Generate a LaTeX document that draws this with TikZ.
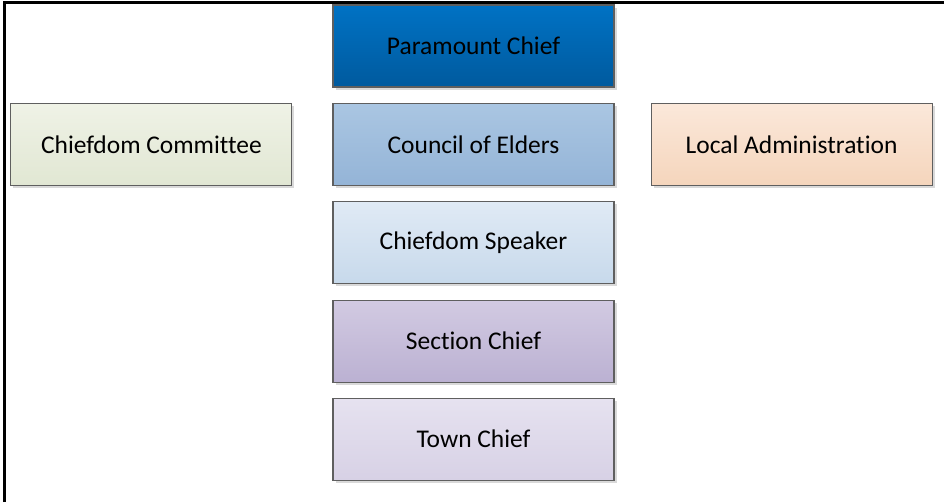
\documentclass[tikz,border=0pt]{standalone}
\usepackage{fontspec}
\setmainfont[Ligatures={NoCommon}]{Carlito}
\usepackage{tikz}
\usetikzlibrary{positioning,shadows}
\definecolor{edgegrey}{RGB}{95,95,95}
\definecolor{pcTop}{RGB}{0,114,196}
\definecolor{pcBot}{RGB}{0,90,158}
\definecolor{ceTop}{RGB}{170,198,226}
\definecolor{ceBot}{RGB}{148,180,215}
\definecolor{csTop}{RGB}{224,234,245}
\definecolor{csBot}{RGB}{199,217,235}
\definecolor{scTop}{RGB}{210,202,226}
\definecolor{scBot}{RGB}{187,177,210}
\definecolor{tcTop}{RGB}{230,226,240}
\definecolor{tcBot}{RGB}{215,209,229}
\definecolor{ccTop}{RGB}{239,242,230}
\definecolor{ccBot}{RGB}{225,231,211}
\definecolor{laTop}{RGB}{251,232,218}
\definecolor{laBot}{RGB}{245,213,188}
\tikzset{
  rank/.style={draw=edgegrey, line width=0.6pt, minimum width=5.62cm, minimum height=1.64cm, inner sep=0pt,
    font=\fontsize{14.5}{17}\selectfont, shading=axis,
    drop shadow={shadow xshift=0.05cm, shadow yshift=-0.05cm, fill=black!15, opacity=1}},
  fill2/.style n args={2}{top color=#1, bottom color=#2},
}

\begin{document}
\begin{tikzpicture}
    \useasboundingbox (0,0) rectangle (18.88,-10.04);
    % frame
    \draw[line width=1.7pt] (0.09,-10.04) -- (0.09,-0.05) -- (18.88,-0.05);
    % chain of authority
    \node[rank, fill2={pcTop}{pcBot}] (paramount) at (9.47,-0.92) {Paramount Chief};
    \node[rank, fill2={ceTop}{ceBot}, below=0.31cm of paramount] (elders) {Council of Elders};
    \node[rank, fill2={csTop}{csBot}, below=0.30cm of elders] (speaker) {Chiefdom Speaker};
    \node[rank, fill2={scTop}{scBot}, below=0.31cm of speaker] (section) {Section Chief};
    \node[rank, fill2={tcTop}{tcBot}, below=0.30cm of section] (town) {Town Chief};
    % side bodies
    \node[rank, fill2={ccTop}{ccBot}, left=0.80cm of elders] (committee) {Chiefdom Committee};
    \node[rank, fill2={laTop}{laBot}, right=0.72cm of elders] (localadmin) {Local Administration};
\end{tikzpicture}
\end{document}
